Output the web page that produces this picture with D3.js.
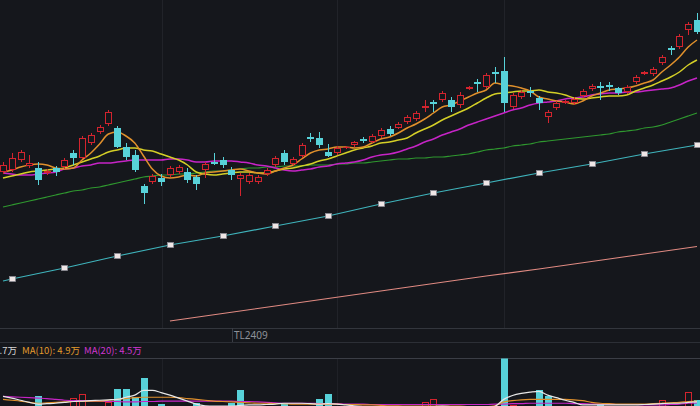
<!DOCTYPE html>
<html><head><meta charset="utf-8">
<script src="https://cdn.jsdelivr.net/npm/d3@7"></script>
<style>html,body{margin:0;padding:0;background:#15171c;overflow:hidden}</style>
</head><body><svg id="c" width="700" height="406"></svg>
<script>
// ---- price data (one entry per trading day) ----
const openP  = [106.56,106.60,106.80,106.68,106.64,106.54,106.64,106.66,106.94,106.84,107.14,107.36,107.52,107.44,107.06,106.90,106.28,106.36,106.44,106.50,106.56,106.56,106.46,106.60,106.76,106.80,106.60,106.42,106.36,106.36,106.52,106.70,106.94,106.72,106.88,107.26,107.24,106.96,106.94,107.04,107.10,107.22,107.16,107.28,107.42,107.44,107.56,107.62,107.84,107.96,108.00,108.00,107.90,108.22,108.36,108.26,108.56,108.58,107.86,108.06,108.18,108.04,107.66,107.84,107.94,107.94,108.08,108.22,108.28,108.30,108.24,108.16,108.36,108.52,108.52,108.74,109.04,109.06,109.40,109.60];
const highP  = [106.76,106.94,107.00,106.90,106.76,106.62,106.68,106.84,107.00,107.28,107.34,107.50,107.80,107.48,107.14,107.00,106.32,106.52,106.52,106.68,106.70,106.64,106.50,106.76,106.94,106.86,106.66,106.54,106.54,106.50,106.64,106.88,107.00,106.86,107.14,107.34,107.36,107.12,107.08,107.08,107.18,107.26,107.32,107.44,107.48,107.56,107.70,107.78,108.00,108.00,108.18,108.06,108.16,108.28,108.42,108.54,108.66,108.86,108.14,108.20,108.26,108.08,107.80,107.98,108.00,108.06,108.22,108.32,108.36,108.36,108.26,108.30,108.50,108.58,108.66,108.90,109.08,109.32,109.56,109.74];
const lowP   = [106.52,106.56,106.76,106.64,106.30,106.50,106.48,106.62,106.70,106.82,107.10,107.32,107.48,107.04,106.80,106.56,105.92,106.32,106.28,106.46,106.52,106.34,106.20,106.44,106.70,106.64,106.40,106.08,106.32,106.32,106.48,106.66,106.70,106.68,106.84,107.16,107.04,106.86,106.90,107.02,107.06,107.14,107.14,107.24,107.28,107.42,107.52,107.58,107.76,107.76,107.96,107.76,107.84,108.20,108.16,108.22,108.34,107.76,107.82,108.02,108.06,107.80,107.54,107.80,107.92,107.90,108.04,108.18,108.00,108.18,108.10,108.12,108.32,108.50,108.48,108.70,108.90,109.02,109.30,109.32];
const closeP = [106.70,106.84,106.96,106.74,106.40,106.58,106.56,106.80,106.84,107.24,107.30,107.46,107.76,107.06,106.86,106.60,106.14,106.48,106.36,106.64,106.66,106.40,106.32,106.72,106.72,106.70,106.50,106.50,106.50,106.46,106.60,106.84,106.76,106.82,107.10,107.22,107.10,106.88,107.04,107.06,107.16,107.18,107.28,107.40,107.32,107.52,107.66,107.74,107.88,107.92,108.14,107.86,108.10,108.26,108.32,108.50,108.52,107.94,108.10,108.16,108.14,107.94,107.76,107.94,107.98,108.02,108.18,108.28,108.24,108.26,108.14,108.26,108.46,108.56,108.62,108.86,109.00,109.28,109.52,109.36];

// ---- moving averages ----
const ma5  = [106.56,106.60,106.66,106.70,106.72,106.70,106.64,106.62,106.64,106.80,106.94,107.12,107.32,107.36,107.28,107.14,106.88,106.62,106.48,106.44,106.46,106.50,106.48,106.54,106.56,106.58,106.60,106.62,106.58,106.54,106.52,106.58,106.64,106.70,106.82,106.94,107.00,107.02,107.06,107.06,107.04,107.06,107.14,107.22,107.26,107.34,107.44,107.52,107.62,107.74,107.86,107.90,107.98,108.06,108.14,108.20,108.34,108.30,108.28,108.24,108.18,108.06,108.02,107.98,107.96,107.92,107.98,108.08,108.14,108.20,108.22,108.24,108.28,108.34,108.40,108.56,108.70,108.86,109.06,109.20];
const ma10 = [106.44,106.48,106.52,106.56,106.58,106.60,106.62,106.64,106.70,106.76,106.82,106.88,106.96,107.00,107.04,107.04,107.00,106.98,106.92,106.86,106.80,106.70,106.56,106.52,106.50,106.52,106.54,106.56,106.56,106.54,106.54,106.58,106.62,106.64,106.68,106.72,106.78,106.82,106.88,106.94,107.00,107.04,107.08,107.14,107.16,107.20,107.24,107.34,107.42,107.50,107.60,107.68,107.76,107.84,107.94,108.04,108.12,108.14,108.16,108.18,108.18,108.20,108.16,108.14,108.10,108.04,108.02,108.04,108.06,108.08,108.08,108.10,108.18,108.24,108.30,108.38,108.46,108.56,108.70,108.80];
const ma20 = [106.54,106.52,106.50,106.50,106.52,106.54,106.56,106.62,106.64,106.68,106.70,106.74,106.74,106.76,106.78,106.80,106.80,106.80,106.80,106.82,106.82,106.80,106.76,106.76,106.78,106.78,106.78,106.76,106.74,106.70,106.68,106.64,106.60,106.58,106.60,106.62,106.66,106.68,106.72,106.74,106.76,106.80,106.86,106.90,106.92,106.96,107.02,107.08,107.16,107.22,107.30,107.36,107.42,107.50,107.56,107.62,107.68,107.74,107.80,107.84,107.90,107.94,107.96,107.98,108.02,108.04,108.06,108.10,108.12,108.14,108.14,108.16,108.16,108.18,108.20,108.22,108.24,108.30,108.38,108.44];
const ma60 = [105.86,105.90,105.94,105.98,106.02,106.06,106.10,106.14,106.18,106.20,106.24,106.26,106.30,106.34,106.38,106.42,106.46,106.48,106.50,106.50,106.52,106.52,106.54,106.56,106.58,106.58,106.60,106.62,106.64,106.64,106.66,106.66,106.68,106.68,106.68,106.70,106.70,106.70,106.72,106.72,106.74,106.74,106.76,106.78,106.80,106.82,106.82,106.84,106.84,106.86,106.86,106.88,106.90,106.92,106.96,107.00,107.02,107.04,107.08,107.10,107.12,107.16,107.18,107.20,107.22,107.24,107.26,107.28,107.30,107.32,107.36,107.38,107.40,107.44,107.46,107.50,107.56,107.62,107.68,107.74];

// slow line with square markers (one point per week) and long-term line
const weekIdx = [0,1,7,13,19,25,31,37,43,49,55,61,67,73,79];
const weekVal = [104.38,104.42,104.64,104.88,105.10,105.28,105.48,105.68,105.92,106.14,106.34,106.54,106.72,106.92,107.10];
const longIdx = [19,25,31,37,43,49,55,61,67,73,79];
const longVal = [103.58,103.73,103.88,104.03,104.18,104.33,104.48,104.62,104.77,104.92,105.07];

// ---- volume (万) ----
const volume = [3.0,2.8,2.5,2.6,6.0,2.4,2.8,3.2,5.6,6.5,3.4,3.0,4.6,7.7,7.7,5.8,10.2,3.5,4.2,3.0,2.6,3.4,4.4,3.0,2.8,2.6,4.4,7.4,3.2,2.8,2.4,3.0,4.4,3.2,3.4,3.0,5.3,6.5,3.4,2.2,2.6,2.8,3.0,3.2,3.0,2.8,3.0,3.4,4.7,5.3,3.6,3.4,3.2,2.6,3.0,3.4,3.0,14.9,4.0,3.8,3.4,7.4,6.0,3.6,3.0,3.2,3.4,3.0,4.2,3.2,3.4,3.0,3.4,2.8,3.6,5.1,3.6,3.4,7.0,5.1];
const volMa5  = [6.0,5.6,5.1,4.6,4.2,4.3,4.4,4.6,4.8,4.9,5.0,5.1,5.2,5.3,5.8,6.3,7.4,7.4,6.9,6.3,5.6,4.9,4.2,3.8,3.7,3.7,3.7,3.9,4.0,4.0,4.1,4.2,4.4,4.4,4.4,4.3,4.2,4.3,4.2,4.0,3.8,3.6,3.5,3.4,3.4,3.4,3.4,3.4,3.5,3.6,3.7,3.6,3.5,3.4,3.3,3.4,3.7,5.3,6.2,6.7,7.0,7.2,6.3,5.7,5.1,4.6,4.0,4.0,4.0,4.0,4.0,4.0,4.0,4.1,4.2,4.3,4.4,4.4,4.6,4.7];
const volMa10 = [5.3,5.1,4.9,4.6,4.4,4.5,4.6,4.7,4.8,4.8,4.9,4.9,5.1,5.3,5.5,5.7,5.8,5.8,5.8,5.8,5.7,5.5,5.3,5.1,4.9,4.8,4.7,4.6,4.5,4.4,4.4,4.3,4.3,4.2,4.2,4.2,4.2,4.2,4.2,4.1,4.1,4.0,4.0,3.9,3.8,3.8,3.7,3.7,3.7,3.7,3.7,3.7,3.7,3.6,3.6,3.6,3.8,4.7,5.0,5.2,5.3,5.3,5.3,5.3,5.3,5.2,5.0,4.6,4.4,4.3,4.2,4.2,4.2,4.2,4.3,4.4,4.5,4.6,4.8,4.9];
const volMa20 = [6.0,5.9,5.8,5.7,5.6,5.5,5.3,5.1,5.0,5.0,4.9,4.9,4.8,4.8,4.7,4.7,4.8,4.8,4.9,4.9,4.9,4.9,4.9,4.9,4.9,4.9,4.9,4.8,4.8,4.7,4.6,4.5,4.4,4.4,4.4,4.4,4.3,4.3,4.3,4.2,4.2,4.2,4.1,4.1,4.1,4.1,4.1,4.1,4.1,4.1,4.1,4.1,4.1,4.1,4.1,4.1,4.2,4.2,4.3,4.3,4.4,4.4,4.4,4.4,4.4,4.3,4.3,4.2,4.2,4.2,4.1,4.1,4.1,4.0,4.0,4.0,4.1,4.2,4.4,4.5];

const contractLabel = "TL2409";
const legendItems = [
  {label: "MA(5): ",  value: "4.7万", color: "#d6d6d6"},
  {label: "MA(10): ", value: "4.9万", color: "#e39a2c"},
  {label: "MA(20): ", value: "4.5万", color: "#cf36cf"}
];

// ---- drawing ----
const W = 700, H = 406, BG = "#15171c";
const RED = "#d3242e", CYAN = "#57d2d9";
const svg = d3.select("#c");
const n = closeP.length;
const idx = d3.range(n);

const x = d3.scalePoint().domain(idx).range([3, 697]);
const y = d3.scaleLinear().domain([110, 103.44]).range([0, 328]);
const yv = d3.scaleLinear().domain([0, 15]).range([422, 358]);

svg.append("rect").attr("width", W).attr("height", H).attr("fill", BG);

const defs = svg.append("defs");
defs.append("clipPath").attr("id", "cm").append("rect").attr("x", 0).attr("y", 0).attr("width", W).attr("height", 327.5);
defs.append("clipPath").attr("id", "cv").append("rect").attr("x", 0).attr("y", 358.5).attr("width", W).attr("height", 60);

// grid / separators
const grid = svg.append("g");
[162, 337, 504].forEach(gx => {
  grid.append("line").attr("x1", gx + 0.5).attr("x2", gx + 0.5).attr("y1", 0).attr("y2", 328)
    .attr("stroke", "#212329").attr("stroke-width", 1);
  grid.append("line").attr("x1", gx + 0.5).attr("x2", gx + 0.5).attr("y1", 358).attr("y2", H)
    .attr("stroke", "#1f2127").attr("stroke-width", 1);
});
grid.append("line").attr("x1", 0).attr("x2", W).attr("y1", 328.5).attr("y2", 328.5).attr("stroke", "#33363d");
grid.append("line").attr("x1", 0).attr("x2", W).attr("y1", 342.5).attr("y2", 342.5).attr("stroke", "#2c2f36");
grid.append("line").attr("x1", 0).attr("x2", W).attr("y1", 358.5).attr("y2", 358.5).attr("stroke", "#3b3e46");

// contract label on the time axis
grid.append("line").attr("x1", 232.5).attr("x2", 232.5).attr("y1", 328).attr("y2", 342).attr("stroke", "#3a3d45");
svg.append("text").attr("x", 234).attr("y", 339).text(contractLabel)
  .attr("font-family", "'Noto Sans', 'DejaVu Sans', sans-serif").attr("font-size", 10)
  .attr("fill", "#8d9199");

// main pane
const main = svg.append("g").attr("clip-path", "url(#cm)");

function lineFrom(ix, vals, curve) {
  return d3.line().x((d, k) => x(ix[k])).y(d => y(d)).curve(curve)(vals);
}
main.append("path").attr("d", lineFrom(longIdx, longVal, d3.curveLinear))
  .attr("fill", "none").attr("stroke", "#e08a82").attr("stroke-width", 1.1);
main.append("path").attr("d", lineFrom(weekIdx, weekVal, d3.curveLinear))
  .attr("fill", "none").attr("stroke", "#3fb4bc").attr("stroke-width", 1.2);

const maDefs = [
  {v: ma60, c: "#2f982f", w: 1.2},
  {v: ma20, c: "#c624c6", w: 1.5},
  {v: ma10, c: "#d4cf27", w: 1.5},
  {v: ma5,  c: "#e0902c", w: 1.5}
];
maDefs.forEach(m => {
  main.append("path").attr("d", lineFrom(idx, m.v, d3.curveMonotoneX))
    .attr("fill", "none").attr("stroke", m.c).attr("stroke-width", m.w);
});

// weekly markers
main.selectAll("rect.mk").data(weekIdx.map((d, k) => ({i: d, v: weekVal[k]})).filter(d => d.i % 6 === 1))
  .join("rect").attr("class", "mk")
  .attr("x", d => Math.round(x(d.i)) - 3 + 0.5).attr("y", d => Math.round(y(d.v)) - 2.5)
  .attr("width", 6).attr("height", 5)
  .attr("fill", "#efe6e6").attr("stroke", "#8c8c94").attr("stroke-width", 0.8);

// candles
const cg = main.append("g");
idx.forEach(i => {
  const o = openP[i], c = closeP[i], h = highP[i], l = lowP[i];
  const up = c >= o;
  const cx = Math.round(x(i));
  const yt = Math.round(y(Math.max(o, c))), yb = Math.round(y(Math.min(o, c)));
  const yh = Math.round(y(h)), yl = Math.round(y(l));
  const bh = Math.max(1, yb - yt);
  if (up) {
    cg.append("line").attr("x1", cx + 0.5).attr("x2", cx + 0.5).attr("y1", yh).attr("y2", yt).attr("stroke", RED);
    cg.append("line").attr("x1", cx + 0.5).attr("x2", cx + 0.5).attr("y1", yt + bh).attr("y2", yl).attr("stroke", RED);
    if (bh <= 2) {
      cg.append("rect").attr("x", cx - 3).attr("y", yt).attr("width", 7).attr("height", Math.max(1, bh)).attr("fill", RED);
    } else {
      cg.append("rect").attr("x", cx - 2.5).attr("y", yt + 0.5).attr("width", 6).attr("height", bh - 1)
        .attr("fill", BG).attr("stroke", RED).attr("stroke-width", 1);
    }
  } else {
    cg.append("line").attr("x1", cx + 0.5).attr("x2", cx + 0.5).attr("y1", yh).attr("y2", yl).attr("stroke", CYAN);
    cg.append("rect").attr("x", cx - 3).attr("y", yt).attr("width", 7).attr("height", bh).attr("fill", CYAN);
  }
});

// volume pane
const vol = svg.append("g").attr("clip-path", "url(#cv)");
idx.forEach(i => {
  const prev = i > 0 ? closeP[i - 1] : openP[i];
  const up = closeP[i] > prev;
  const cx = Math.round(x(i));
  const top = Math.round(yv(volume[i]));
  if (up) {
    vol.append("rect").attr("x", cx - 2.5).attr("y", top + 0.5).attr("width", 6).attr("height", yv(0) - top)
      .attr("fill", "none").attr("stroke", RED).attr("stroke-width", 1);
  } else {
    vol.append("rect").attr("x", cx - 3).attr("y", top).attr("width", 7).attr("height", yv(0) - top).attr("fill", CYAN);
  }
});
[{v: volMa20, c: "#c624c6"}, {v: volMa10, c: "#e0902c"}, {v: volMa5, c: "#e6e6e6"}].forEach(m => {
  vol.append("path").attr("d", d3.line().x((d, k) => x(k)).y(d => yv(d)).curve(d3.curveMonotoneX)(m.v))
    .attr("fill", "none").attr("stroke", m.c).attr("stroke-width", 1.2);
});

// volume legend
const lg = svg.append("g").attr("font-family", "'Noto Sans CJK SC', 'Noto Sans', sans-serif").attr("font-size", 9.5);
let cursorX = null;
legendItems.forEach((it, k) => {
  const t = lg.append("text").attr("y", 353.5).attr("fill", it.color).text(it.label + it.value);
  if (k === 0) {
    t.attr("text-anchor", "end").attr("x", 17);
    cursorX = 17 + 5;
  } else {
    t.attr("x", cursorX);
    cursorX += t.node().getComputedTextLength() + 4;
  }
});
</script>
</body></html>
